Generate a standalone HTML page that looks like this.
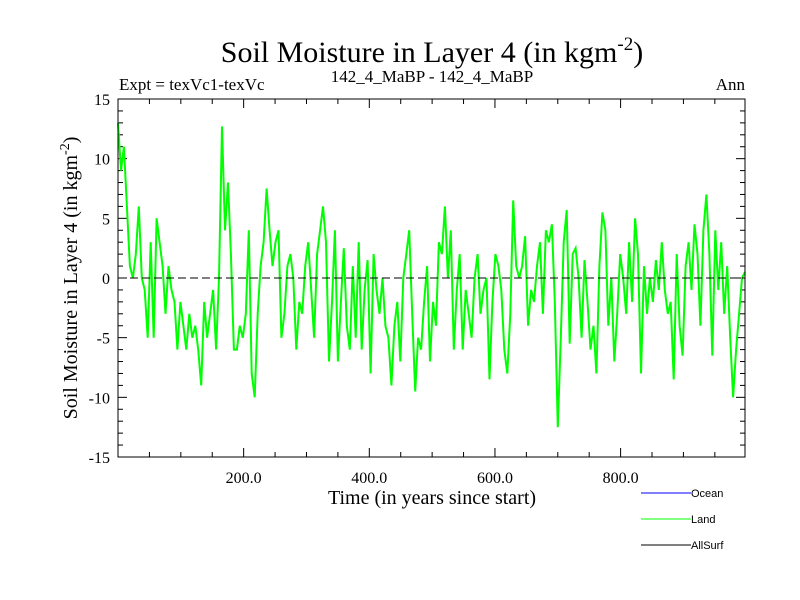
<!DOCTYPE html>
<html><head><meta charset="utf-8"><style>
body{margin:0;background:#fff;}
svg{display:block;font-family:"Liberation Serif",serif;}
</style></head><body>
<svg id="chart" width="800" height="600" viewBox="0 0 800 600">
<rect width="800" height="600" fill="#fff"/>
<text x="432" y="62" font-size="30" text-anchor="middle">Soil Moisture in Layer 4 (in kgm<tspan dy="-12" font-size="19">-2</tspan><tspan dy="12">)</tspan></text>
<text x="119" y="90" font-size="17">Expt = texVc1-texVc</text>
<text x="432" y="82" font-size="17" text-anchor="middle">142_4_MaBP - 142_4_MaBP</text>
<text x="745" y="90" font-size="17" text-anchor="end">Ann</text>
<text transform="translate(77,278) rotate(-90)" font-size="20" text-anchor="middle">Soil Moisture in Layer 4 (in kgm<tspan dy="-8" font-size="14">-2</tspan><tspan dy="8">)</tspan></text>
<text x="432" y="504" font-size="20" text-anchor="middle">Time (in years since start)</text>
<g id="ticks"></g>
<g id="plot"></g>
<rect x="118" y="99" width="627" height="358" fill="none" stroke="#000" stroke-width="1"/>
<g font-family="Liberation Sans, sans-serif" font-size="11">
<g><line x1="641" y1="493" x2="691" y2="493" stroke="#0000ff"/><text x="691" y="497">Ocean</text></g>
<g><line x1="641" y1="519" x2="691" y2="519" stroke="#00ff00"/><text x="691" y="523">Land</text></g>
<g><line x1="641" y1="545" x2="691" y2="545" stroke="#000"/><text x="691" y="549">AllSurf</text></g>
</g>
</svg>
<script>
const landValues = [13,9,11,6,1,0,2,6,0,-1,-5,3,-5,5,3,1,-3,1,-1,-2,-6,-2,-4,-6,-3,-5,-4,-6,-9,-2,-5,-3,-1,-6,0,12.7,4,8,2,-6,-6,-4,-5,-3,4,-8,-10,-3,1,3,7.5,4,1,3,4,-5,-3,1,2,0,-6,-2,-3,1,3,-1,-5,2,4,6,3,-7,-2,
4,-7,-2,2.5,-4,-6,1,-5,3,-6,-1,1.5,-8,2,-1,-3,0,-4,-5,-9,-4,-2,-7,0,2,4,-3,-9.5,-5,-6,-2,1,-7,-2,-4,3,2,6,0,4,-6,-1,2,-6,-1,-3,-5,0,2,-3,-1,0,-8.5,-2,2,1,-1,-6,-8,-3,6.5,1,0,1,3.5,-4,-1,-2,1,3,-3,4,
3,4.5,-2,-12.5,-5,3,5.7,-5.5,2,2.5,0,-5,1.5,-2,-6,-4,-8,1,5.5,4,-4,0,-7,-3,2,0,-3,3,-2,5,2,-8,1,-3,0,-2,1.5,-1,3,-1,-3,-2,-8.5,2,-4,-6.5,1,3,-1,4.5,2,-4,4,7,2,-6.5,4,-1,3,-3,1,-5,-10,-6,-3,0,0.5];
const yearStep = 4.73;
const xTickLabels = ["200.0","400.0","600.0","800.0"];
const xTickValues = [200,400,600,800];
const yTickValues = [-15,-10,-5,0,5,10,15];
const xMin=0,xMax=998,yMin=-15,yMax=15;
const L=118,R=745,T=99,B=457;
function sx(v){return L+(v-xMin)/(xMax-xMin)*(R-L);}
function sy(v){return B-(v-yMin)/(yMax-yMin)*(B-T);}
const NS="http://www.w3.org/2000/svg";
const ticks=document.getElementById('ticks');
const plot=document.getElementById('plot');
function mk(tag,attrs,parent){const e=document.createElementNS(NS,tag);for(const k in attrs)e.setAttribute(k,attrs[k]);parent.appendChild(e);return e;}
for(let v=50;v<xMax;v+=50){
  const major=v%200===0, len=major?9:5, x=sx(v);
  const t1=mk('line',{x1:x,y1:B,x2:x,y2:B-len,stroke:'#000'},ticks);
  
  
  const t2=mk('line',{x1:x,y1:T,x2:x,y2:T+len,stroke:'#000'},ticks);
  
  
}
xTickValues.forEach((v,i)=>{
  const t=mk('text',{x:sx(v),y:B+26,'font-size':16,'text-anchor':'middle'},ticks);
  t.textContent=xTickLabels[i];
  
  
});
for(let v=yMin+1;v<yMax;v++){
  const major=v%5===0, len=major?9:5, y=sy(v);
  const a=mk('line',{x1:L,y1:y,x2:L+len,y2:y,stroke:'#000'},ticks);
  
  
  const b=mk('line',{x1:R,y1:y,x2:R-len,y2:y,stroke:'#000'},ticks);
  
  
}
yTickValues.forEach(v=>{
  const t=mk('text',{x:L-8,y:sy(v)+6,'font-size':16,'text-anchor':'end'},ticks);
  t.textContent=String(v);
  
  
});
let d='';
landValues.forEach((v,i)=>{
  const x=Math.min(sx(i*yearStep),R), y=sy(v);
  d+=(i?'L':'M')+x.toFixed(1)+','+y.toFixed(1);
});
const line=mk('path',{d:d,fill:'none',stroke:'#00ff00','stroke-width':2,'stroke-linejoin':'miter'},plot);


const zero=mk('line',{x1:L,y1:sy(0),x2:R,y2:sy(0),stroke:'#000','stroke-dasharray':'8,4','stroke-width':1},plot);


</script>
</body></html>
